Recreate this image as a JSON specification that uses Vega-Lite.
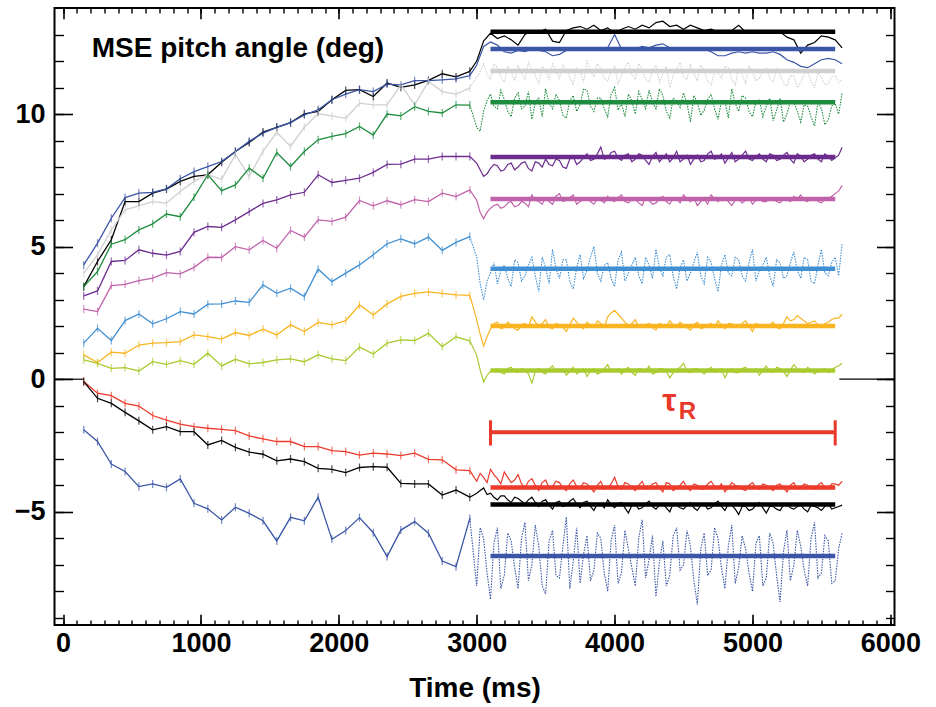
{
"$schema": "https://vega.github.io/schema/vega-lite/v6.json",
"width": 840, "height": 617,
"autosize": {"type": "none"},
"padding": {"left": 54.5, "top": 8, "right": 41.5, "bottom": 82},
"background": "white",
"datasets": {
"pitch": [
{"ch":1,"t":150,"v":3.49},{"ch":1,"t":250,"v":4.44},{"ch":1,"t":350,"v":5.26},{"ch":1,"t":450,"v":6.7},{"ch":1,"t":550,"v":6.7},{"ch":1,"t":650,"v":7.02},{"ch":1,"t":750,"v":7.17},{"ch":1,"t":850,"v":7.46},{"ch":1,"t":950,"v":7.65},{"ch":1,"t":1050,"v":7.71},{"ch":1,"t":1150,"v":8.18},{"ch":1,"t":1250,"v":8.59},{"ch":1,"t":1350,"v":8.93},{"ch":1,"t":1450,"v":9.32},{"ch":1,"t":1550,"v":9.5},{"ch":1,"t":1650,"v":9.68},{"ch":1,"t":1750,"v":10.01},{"ch":1,"t":1850,"v":10.1},{"ch":1,"t":1950,"v":10.54},{"ch":1,"t":2050,"v":10.89},{"ch":1,"t":2150,"v":10.92},{"ch":1,"t":2250,"v":10.66},{"ch":1,"t":2350,"v":11.17},{"ch":1,"t":2450,"v":11.01},{"ch":1,"t":2550,"v":11.1},{"ch":1,"t":2650,"v":11.27},{"ch":1,"t":2750,"v":11.52},{"ch":1,"t":2850,"v":11.4},{"ch":1,"t":2950,"v":11.61},
{"ch":1,"t":3000,"v":12.0},{"ch":1,"t":3050,"v":12.75},{"ch":1,"t":3100,"v":13.05},{"ch":1,"t":3150,"v":12.85},{"ch":1,"t":3200,"v":12.95},{"ch":1,"t":3250,"v":12.8},{"ch":1,"t":3300,"v":12.6},{"ch":1,"t":3350,"v":13.0},{"ch":1,"t":3400,"v":13.15},{"ch":1,"t":3450,"v":13.1},{"ch":1,"t":3500,"v":13.2},{"ch":1,"t":3550,"v":12.75},{"ch":1,"t":3600,"v":12.7},{"ch":1,"t":3650,"v":13.15},{"ch":1,"t":3700,"v":13.25},{"ch":1,"t":3750,"v":13.3},{"ch":1,"t":3800,"v":13.2},{"ch":1,"t":3850,"v":13.35},{"ch":1,"t":3900,"v":13.15},{"ch":1,"t":3950,"v":13.25},{"ch":1,"t":4000,"v":13.05},{"ch":1,"t":4050,"v":13.2},{"ch":1,"t":4100,"v":13.3},{"ch":1,"t":4150,"v":13.2},{"ch":1,"t":4200,"v":13.35},{"ch":1,"t":4250,"v":13.25},{"ch":1,"t":4300,"v":13.45},{"ch":1,"t":4350,"v":13.5},{"ch":1,"t":4400,"v":13.3},{"ch":1,"t":4450,"v":13.35},{"ch":1,"t":4500,"v":13.2},{"ch":1,"t":4550,"v":13.35},{"ch":1,"t":4600,"v":13.25},{"ch":1,"t":4650,"v":13.15},{"ch":1,"t":4700,"v":13.2},{"ch":1,"t":4750,"v":13.1},{"ch":1,"t":4800,"v":13.05},{"ch":1,"t":4850,"v":13.15},{"ch":1,"t":4900,"v":13.35},{"ch":1,"t":4950,"v":13.1},{"ch":1,"t":5000,"v":13.05},{"ch":1,"t":5050,"v":13.15},{"ch":1,"t":5100,"v":13.1},{"ch":1,"t":5150,"v":13.05},{"ch":1,"t":5200,"v":13.1},{"ch":1,"t":5250,"v":12.9},{"ch":1,"t":5300,"v":12.8},{"ch":1,"t":5350,"v":12.3},{"ch":1,"t":5400,"v":12.6},{"ch":1,"t":5450,"v":12.7},{"ch":1,"t":5500,"v":12.95},{"ch":1,"t":5550,"v":12.9},{"ch":1,"t":5600,"v":12.8},{"ch":1,"t":5650,"v":12.5},
{"ch":2,"t":150,"v":4.31},{"ch":2,"t":250,"v":5.13},{"ch":2,"t":350,"v":6.07},{"ch":2,"t":450,"v":6.85},{"ch":2,"t":550,"v":7.02},{"ch":2,"t":650,"v":7.05},{"ch":2,"t":750,"v":7.18},{"ch":2,"t":850,"v":7.56},{"ch":2,"t":950,"v":7.83},{"ch":2,"t":1050,"v":8.02},{"ch":2,"t":1150,"v":8.21},{"ch":2,"t":1250,"v":8.59},{"ch":2,"t":1350,"v":8.97},{"ch":2,"t":1450,"v":9.28},{"ch":2,"t":1550,"v":9.5},{"ch":2,"t":1650,"v":9.68},{"ch":2,"t":1750,"v":9.97},{"ch":2,"t":1850,"v":10.16},{"ch":2,"t":1950,"v":10.54},{"ch":2,"t":2050,"v":10.75},{"ch":2,"t":2150,"v":10.92},{"ch":2,"t":2250,"v":10.85},{"ch":2,"t":2350,"v":11.13},{"ch":2,"t":2450,"v":11.1},{"ch":2,"t":2550,"v":11.26},{"ch":2,"t":2650,"v":11.26},{"ch":2,"t":2750,"v":11.29},{"ch":2,"t":2850,"v":11.33},{"ch":2,"t":2950,"v":11.45},
{"ch":2,"t":3000,"v":11.85},{"ch":2,"t":3050,"v":12.55},{"ch":2,"t":3100,"v":12.72},{"ch":2,"t":3150,"v":12.6},{"ch":2,"t":3200,"v":12.35},{"ch":2,"t":3250,"v":12.3},{"ch":2,"t":3300,"v":12.4},{"ch":2,"t":3350,"v":12.35},{"ch":2,"t":3400,"v":12.45},{"ch":2,"t":3450,"v":12.4},{"ch":2,"t":3500,"v":12.35},{"ch":2,"t":3550,"v":12.2},{"ch":2,"t":3600,"v":12.25},{"ch":2,"t":3650,"v":12.4},{"ch":2,"t":3700,"v":12.45},{"ch":2,"t":3750,"v":12.4},{"ch":2,"t":3800,"v":12.5},{"ch":2,"t":3850,"v":12.45},{"ch":2,"t":3900,"v":12.4},{"ch":2,"t":3950,"v":12.5},{"ch":2,"t":4000,"v":13.0},{"ch":2,"t":4050,"v":12.45},{"ch":2,"t":4100,"v":12.5},{"ch":2,"t":4150,"v":12.45},{"ch":2,"t":4200,"v":12.55},{"ch":2,"t":4250,"v":12.5},{"ch":2,"t":4300,"v":12.6},{"ch":2,"t":4350,"v":12.65},{"ch":2,"t":4400,"v":12.5},{"ch":2,"t":4450,"v":12.45},{"ch":2,"t":4500,"v":12.5},{"ch":2,"t":4550,"v":12.45},{"ch":2,"t":4600,"v":12.4},{"ch":2,"t":4650,"v":12.45},{"ch":2,"t":4700,"v":12.35},{"ch":2,"t":4750,"v":12.2},{"ch":2,"t":4800,"v":12.2},{"ch":2,"t":4850,"v":12.3},{"ch":2,"t":4900,"v":12.35},{"ch":2,"t":4950,"v":12.3},{"ch":2,"t":5000,"v":12.35},{"ch":2,"t":5050,"v":12.3},{"ch":2,"t":5100,"v":12.3},{"ch":2,"t":5150,"v":12.35},{"ch":2,"t":5200,"v":12.25},{"ch":2,"t":5250,"v":12.05},{"ch":2,"t":5300,"v":11.95},{"ch":2,"t":5350,"v":11.8},{"ch":2,"t":5400,"v":11.75},{"ch":2,"t":5450,"v":11.9},{"ch":2,"t":5500,"v":12.05},{"ch":2,"t":5550,"v":12.1},{"ch":2,"t":5600,"v":12.05},{"ch":2,"t":5650,"v":11.9},
{"ch":3,"t":150,"v":4.0},{"ch":3,"t":250,"v":4.69},{"ch":3,"t":350,"v":5.63},{"ch":3,"t":450,"v":6.39},{"ch":3,"t":550,"v":6.54},{"ch":3,"t":650,"v":6.7},{"ch":3,"t":750,"v":6.64},{"ch":3,"t":850,"v":7.08},{"ch":3,"t":950,"v":7.46},{"ch":3,"t":1050,"v":7.71},{"ch":3,"t":1150,"v":7.54},{"ch":3,"t":1250,"v":8.47},{"ch":3,"t":1350,"v":7.65},{"ch":3,"t":1450,"v":8.59},{"ch":3,"t":1550,"v":9.31},{"ch":3,"t":1650,"v":8.78},{"ch":3,"t":1750,"v":9.51},{"ch":3,"t":1850,"v":10.01},{"ch":3,"t":1950,"v":9.93},{"ch":3,"t":2050,"v":9.84},{"ch":3,"t":2150,"v":10.41},{"ch":3,"t":2250,"v":10.35},{"ch":3,"t":2350,"v":10.35},{"ch":3,"t":2450,"v":11.1},{"ch":3,"t":2550,"v":10.35},{"ch":3,"t":2650,"v":11.23},{"ch":3,"t":2750,"v":10.85},{"ch":3,"t":2850,"v":10.75},{"ch":3,"t":2950,"v":10.98},
{"ch":3,"t":3000,"v":11.4},{"ch":3,"t":3050,"v":11.9},{"ch":3,"t":3100,"v":11.3},{"ch":3,"t":3150,"v":11.75},{"ch":3,"t":3200,"v":11.2},{"ch":3,"t":3250,"v":11.6},{"ch":3,"t":3300,"v":11.85},{"ch":3,"t":3350,"v":11.3},{"ch":3,"t":3400,"v":11.7},{"ch":3,"t":3450,"v":11.15},{"ch":3,"t":3500,"v":11.65},{"ch":3,"t":3550,"v":11.9},{"ch":3,"t":3600,"v":11.35},{"ch":3,"t":3650,"v":11.7},{"ch":3,"t":3700,"v":11.1},{"ch":3,"t":3750,"v":11.6},{"ch":3,"t":3800,"v":12.0},{"ch":3,"t":3850,"v":11.4},{"ch":3,"t":3900,"v":11.75},{"ch":3,"t":3950,"v":11.25},{"ch":3,"t":4000,"v":11.8},{"ch":3,"t":4050,"v":11.45},{"ch":3,"t":4100,"v":11.95},{"ch":3,"t":4150,"v":11.3},{"ch":3,"t":4200,"v":11.7},{"ch":3,"t":4250,"v":11.2},{"ch":3,"t":4300,"v":11.85},{"ch":3,"t":4350,"v":11.5},{"ch":3,"t":4400,"v":11.0},{"ch":3,"t":4450,"v":11.7},{"ch":3,"t":4500,"v":11.4},{"ch":3,"t":4550,"v":11.9},{"ch":3,"t":4600,"v":11.25},{"ch":3,"t":4650,"v":11.65},{"ch":3,"t":4700,"v":11.1},{"ch":3,"t":4750,"v":11.55},{"ch":3,"t":4800,"v":11.8},{"ch":3,"t":4850,"v":11.3},{"ch":3,"t":4900,"v":11.7},{"ch":3,"t":4950,"v":11.15},{"ch":3,"t":5000,"v":11.6},{"ch":3,"t":5050,"v":11.35},{"ch":3,"t":5100,"v":11.75},{"ch":3,"t":5150,"v":11.2},{"ch":3,"t":5200,"v":11.5},{"ch":3,"t":5250,"v":11.05},{"ch":3,"t":5300,"v":11.45},{"ch":3,"t":5350,"v":11.2},{"ch":3,"t":5400,"v":11.6},{"ch":3,"t":5450,"v":11.0},{"ch":3,"t":5500,"v":11.4},{"ch":3,"t":5550,"v":11.15},{"ch":3,"t":5600,"v":11.45},{"ch":3,"t":5650,"v":11.3},
{"ch":4,"t":150,"v":3.49},{"ch":4,"t":250,"v":4.06},{"ch":4,"t":350,"v":5.09},{"ch":4,"t":450,"v":5.26},{"ch":4,"t":550,"v":5.63},{"ch":4,"t":650,"v":5.86},{"ch":4,"t":750,"v":6.23},{"ch":4,"t":850,"v":6.13},{"ch":4,"t":950,"v":6.86},{"ch":4,"t":1050,"v":7.71},{"ch":4,"t":1150,"v":7.11},{"ch":4,"t":1250,"v":7.33},{"ch":4,"t":1350,"v":7.96},{"ch":4,"t":1450,"v":7.58},{"ch":4,"t":1550,"v":8.55},{"ch":4,"t":1650,"v":8.02},{"ch":4,"t":1750,"v":8.59},{"ch":4,"t":1850,"v":9.03},{"ch":4,"t":1950,"v":9.16},{"ch":4,"t":2050,"v":9.26},{"ch":4,"t":2150,"v":9.53},{"ch":4,"t":2250,"v":9.21},{"ch":4,"t":2350,"v":10.0},{"ch":4,"t":2450,"v":9.93},{"ch":4,"t":2550,"v":10.28},{"ch":4,"t":2650,"v":10.1},{"ch":4,"t":2750,"v":10.04},{"ch":4,"t":2850,"v":10.35},{"ch":4,"t":2950,"v":10.34},
{"ch":4,"t":3000,"v":9.5},{"ch":4,"t":3050,"v":10.1},{"ch":4,"t":3100,"v":10.75},{"ch":4,"t":3150,"v":10.2},{"ch":4,"t":3200,"v":10.55},{"ch":4,"t":3250,"v":9.9},{"ch":4,"t":3300,"v":10.8},{"ch":4,"t":3350,"v":10.3},{"ch":4,"t":3400,"v":9.8},{"ch":4,"t":3450,"v":10.6},{"ch":4,"t":3500,"v":10.95},{"ch":4,"t":3550,"v":10.2},{"ch":4,"t":3600,"v":10.5},{"ch":4,"t":3650,"v":9.85},{"ch":4,"t":3700,"v":10.7},{"ch":4,"t":3750,"v":10.35},{"ch":4,"t":3800,"v":10.9},{"ch":4,"t":3850,"v":10.1},{"ch":4,"t":3900,"v":10.6},{"ch":4,"t":3950,"v":9.9},{"ch":4,"t":4000,"v":11.0},{"ch":4,"t":4050,"v":10.4},{"ch":4,"t":4100,"v":10.75},{"ch":4,"t":4150,"v":10.0},{"ch":4,"t":4200,"v":10.55},{"ch":4,"t":4250,"v":10.9},{"ch":4,"t":4300,"v":10.2},{"ch":4,"t":4350,"v":10.7},{"ch":4,"t":4400,"v":9.85},{"ch":4,"t":4450,"v":10.5},{"ch":4,"t":4500,"v":10.8},{"ch":4,"t":4550,"v":9.7},{"ch":4,"t":4600,"v":10.45},{"ch":4,"t":4650,"v":10.15},{"ch":4,"t":4700,"v":10.75},{"ch":4,"t":4750,"v":9.8},{"ch":4,"t":4800,"v":10.5},{"ch":4,"t":4850,"v":10.95},{"ch":4,"t":4900,"v":10.1},{"ch":4,"t":4950,"v":10.6},{"ch":4,"t":5000,"v":9.9},{"ch":4,"t":5050,"v":10.55},{"ch":4,"t":5100,"v":10.3},{"ch":4,"t":5150,"v":9.75},{"ch":4,"t":5200,"v":10.6},{"ch":4,"t":5250,"v":10.0},{"ch":4,"t":5300,"v":10.45},{"ch":4,"t":5350,"v":9.7},{"ch":4,"t":5400,"v":10.3},{"ch":4,"t":5450,"v":9.55},{"ch":4,"t":5500,"v":10.2},{"ch":4,"t":5550,"v":9.8},{"ch":4,"t":5600,"v":10.4},{"ch":4,"t":5650,"v":10.8},
{"ch":5,"t":150,"v":3.14},{"ch":5,"t":250,"v":3.33},{"ch":5,"t":350,"v":4.44},{"ch":5,"t":450,"v":4.48},{"ch":5,"t":550,"v":4.88},{"ch":5,"t":650,"v":4.75},{"ch":5,"t":750,"v":4.68},{"ch":5,"t":850,"v":4.82},{"ch":5,"t":950,"v":5.54},{"ch":5,"t":1050,"v":5.76},{"ch":5,"t":1150,"v":5.73},{"ch":5,"t":1250,"v":6.01},{"ch":5,"t":1350,"v":6.32},{"ch":5,"t":1450,"v":6.63},{"ch":5,"t":1550,"v":6.76},{"ch":5,"t":1650,"v":6.95},{"ch":5,"t":1750,"v":7.05},{"ch":5,"t":1850,"v":7.71},{"ch":5,"t":1950,"v":7.42},{"ch":5,"t":2050,"v":7.5},{"ch":5,"t":2150,"v":7.58},{"ch":5,"t":2250,"v":7.8},{"ch":5,"t":2350,"v":8.1},{"ch":5,"t":2450,"v":8.11},{"ch":5,"t":2550,"v":8.3},{"ch":5,"t":2650,"v":8.3},{"ch":5,"t":2750,"v":8.4},{"ch":5,"t":2850,"v":8.4},{"ch":5,"t":2950,"v":8.4},
{"ch":5,"t":3000,"v":8.15},{"ch":5,"t":3050,"v":7.65},{"ch":5,"t":3100,"v":7.95},{"ch":5,"t":3150,"v":8.05},{"ch":5,"t":3200,"v":7.9},{"ch":5,"t":3250,"v":8.15},{"ch":5,"t":3300,"v":8.0},{"ch":5,"t":3350,"v":8.2},{"ch":5,"t":3400,"v":7.85},{"ch":5,"t":3450,"v":8.15},{"ch":5,"t":3500,"v":8.3},{"ch":5,"t":3550,"v":8.05},{"ch":5,"t":3600,"v":8.25},{"ch":5,"t":3650,"v":7.95},{"ch":5,"t":3700,"v":8.4},{"ch":5,"t":3750,"v":8.2},{"ch":5,"t":3800,"v":8.5},{"ch":5,"t":3850,"v":8.3},{"ch":5,"t":3900,"v":8.75},{"ch":5,"t":3950,"v":8.35},{"ch":5,"t":4000,"v":8.6},{"ch":5,"t":4050,"v":8.25},{"ch":5,"t":4100,"v":8.5},{"ch":5,"t":4150,"v":8.3},{"ch":5,"t":4200,"v":8.45},{"ch":5,"t":4250,"v":8.1},{"ch":5,"t":4300,"v":8.55},{"ch":5,"t":4350,"v":8.35},{"ch":5,"t":4400,"v":8.2},{"ch":5,"t":4450,"v":8.6},{"ch":5,"t":4500,"v":8.3},{"ch":5,"t":4550,"v":8.1},{"ch":5,"t":4600,"v":8.45},{"ch":5,"t":4650,"v":8.25},{"ch":5,"t":4700,"v":8.6},{"ch":5,"t":4750,"v":8.35},{"ch":5,"t":4800,"v":8.15},{"ch":5,"t":4850,"v":8.55},{"ch":5,"t":4900,"v":8.3},{"ch":5,"t":4950,"v":8.6},{"ch":5,"t":5000,"v":8.25},{"ch":5,"t":5050,"v":8.5},{"ch":5,"t":5100,"v":8.2},{"ch":5,"t":5150,"v":8.45},{"ch":5,"t":5200,"v":8.3},{"ch":5,"t":5250,"v":8.55},{"ch":5,"t":5300,"v":8.15},{"ch":5,"t":5350,"v":8.4},{"ch":5,"t":5400,"v":8.3},{"ch":5,"t":5450,"v":8.5},{"ch":5,"t":5500,"v":8.2},{"ch":5,"t":5550,"v":8.4},{"ch":5,"t":5600,"v":8.35},{"ch":5,"t":5650,"v":8.75},
{"ch":6,"t":150,"v":2.64},{"ch":6,"t":250,"v":2.55},{"ch":6,"t":350,"v":3.53},{"ch":6,"t":450,"v":3.58},{"ch":6,"t":550,"v":3.72},{"ch":6,"t":650,"v":3.81},{"ch":6,"t":750,"v":4.02},{"ch":6,"t":850,"v":3.97},{"ch":6,"t":950,"v":4.22},{"ch":6,"t":1050,"v":4.6},{"ch":6,"t":1150,"v":4.59},{"ch":6,"t":1250,"v":5.0},{"ch":6,"t":1350,"v":4.88},{"ch":6,"t":1450,"v":5.23},{"ch":6,"t":1550,"v":4.94},{"ch":6,"t":1650,"v":5.61},{"ch":6,"t":1750,"v":5.36},{"ch":6,"t":1850,"v":6.01},{"ch":6,"t":1950,"v":5.95},{"ch":6,"t":2050,"v":6.11},{"ch":6,"t":2150,"v":6.74},{"ch":6,"t":2250,"v":6.54},{"ch":6,"t":2350,"v":6.73},{"ch":6,"t":2450,"v":6.58},{"ch":6,"t":2550,"v":6.77},{"ch":6,"t":2650,"v":6.7},{"ch":6,"t":2750,"v":7.02},{"ch":6,"t":2850,"v":6.89},{"ch":6,"t":2950,"v":7.14},
{"ch":6,"t":3000,"v":6.75},{"ch":6,"t":3050,"v":6.05},{"ch":6,"t":3100,"v":6.45},{"ch":6,"t":3150,"v":6.6},{"ch":6,"t":3200,"v":6.5},{"ch":6,"t":3250,"v":6.7},{"ch":6,"t":3300,"v":6.55},{"ch":6,"t":3350,"v":6.65},{"ch":6,"t":3400,"v":6.95},{"ch":6,"t":3450,"v":6.7},{"ch":6,"t":3500,"v":6.85},{"ch":6,"t":3550,"v":6.6},{"ch":6,"t":3600,"v":7.0},{"ch":6,"t":3650,"v":6.75},{"ch":6,"t":3700,"v":6.95},{"ch":6,"t":3750,"v":6.7},{"ch":6,"t":3800,"v":6.85},{"ch":6,"t":3850,"v":6.6},{"ch":6,"t":3900,"v":6.75},{"ch":6,"t":3950,"v":6.9},{"ch":6,"t":4000,"v":6.7},{"ch":6,"t":4050,"v":6.95},{"ch":6,"t":4100,"v":6.65},{"ch":6,"t":4150,"v":6.8},{"ch":6,"t":4200,"v":6.55},{"ch":6,"t":4250,"v":6.75},{"ch":6,"t":4300,"v":6.65},{"ch":6,"t":4350,"v":6.9},{"ch":6,"t":4400,"v":6.6},{"ch":6,"t":4450,"v":6.8},{"ch":6,"t":4500,"v":6.95},{"ch":6,"t":4550,"v":6.7},{"ch":6,"t":4600,"v":6.55},{"ch":6,"t":4650,"v":6.8},{"ch":6,"t":4700,"v":6.95},{"ch":6,"t":4750,"v":6.7},{"ch":6,"t":4800,"v":6.85},{"ch":6,"t":4850,"v":6.55},{"ch":6,"t":4900,"v":6.8},{"ch":6,"t":4950,"v":6.75},{"ch":6,"t":5000,"v":6.6},{"ch":6,"t":5050,"v":6.85},{"ch":6,"t":5100,"v":6.7},{"ch":6,"t":5150,"v":6.8},{"ch":6,"t":5200,"v":6.65},{"ch":6,"t":5250,"v":6.75},{"ch":6,"t":5300,"v":6.9},{"ch":6,"t":5350,"v":6.95},{"ch":6,"t":5400,"v":6.7},{"ch":6,"t":5450,"v":6.85},{"ch":6,"t":5500,"v":6.65},{"ch":6,"t":5550,"v":6.8},{"ch":6,"t":5600,"v":7.0},{"ch":6,"t":5650,"v":7.3},
{"ch":7,"t":150,"v":1.36},{"ch":7,"t":250,"v":1.92},{"ch":7,"t":350,"v":1.46},{"ch":7,"t":450,"v":2.21},{"ch":7,"t":550,"v":2.46},{"ch":7,"t":650,"v":2.09},{"ch":7,"t":750,"v":2.28},{"ch":7,"t":850,"v":2.55},{"ch":7,"t":950,"v":2.46},{"ch":7,"t":1050,"v":2.83},{"ch":7,"t":1150,"v":2.84},{"ch":7,"t":1250,"v":2.95},{"ch":7,"t":1350,"v":2.9},{"ch":7,"t":1450,"v":3.56},{"ch":7,"t":1550,"v":3.24},{"ch":7,"t":1650,"v":3.43},{"ch":7,"t":1750,"v":3.12},{"ch":7,"t":1850,"v":4.15},{"ch":7,"t":1950,"v":3.68},{"ch":7,"t":2050,"v":4.0},{"ch":7,"t":2150,"v":4.31},{"ch":7,"t":2250,"v":4.69},{"ch":7,"t":2350,"v":5.11},{"ch":7,"t":2450,"v":5.29},{"ch":7,"t":2550,"v":5.11},{"ch":7,"t":2650,"v":5.36},{"ch":7,"t":2750,"v":4.86},{"ch":7,"t":2850,"v":5.16},{"ch":7,"t":2950,"v":5.38},
{"ch":7,"t":3000,"v":4.6},{"ch":7,"t":3050,"v":3.0},{"ch":7,"t":3100,"v":4.0},{"ch":7,"t":3150,"v":3.6},{"ch":7,"t":3200,"v":4.3},{"ch":7,"t":3250,"v":3.5},{"ch":7,"t":3300,"v":4.4},{"ch":7,"t":3350,"v":3.9},{"ch":7,"t":3400,"v":4.6},{"ch":7,"t":3450,"v":3.3},{"ch":7,"t":3500,"v":4.2},{"ch":7,"t":3550,"v":4.9},{"ch":7,"t":3600,"v":3.8},{"ch":7,"t":3650,"v":4.5},{"ch":7,"t":3700,"v":3.4},{"ch":7,"t":3750,"v":4.7},{"ch":7,"t":3800,"v":4.1},{"ch":7,"t":3850,"v":5.0},{"ch":7,"t":3900,"v":3.7},{"ch":7,"t":3950,"v":4.4},{"ch":7,"t":4000,"v":3.5},{"ch":7,"t":4050,"v":4.8},{"ch":7,"t":4100,"v":4.0},{"ch":7,"t":4150,"v":4.6},{"ch":7,"t":4200,"v":3.6},{"ch":7,"t":4250,"v":4.3},{"ch":7,"t":4300,"v":4.9},{"ch":7,"t":4350,"v":3.9},{"ch":7,"t":4400,"v":4.7},{"ch":7,"t":4450,"v":3.4},{"ch":7,"t":4500,"v":4.5},{"ch":7,"t":4550,"v":4.0},{"ch":7,"t":4600,"v":4.8},{"ch":7,"t":4650,"v":3.6},{"ch":7,"t":4700,"v":4.4},{"ch":7,"t":4750,"v":3.3},{"ch":7,"t":4800,"v":4.7},{"ch":7,"t":4850,"v":3.9},{"ch":7,"t":4900,"v":4.5},{"ch":7,"t":4950,"v":3.7},{"ch":7,"t":5000,"v":4.9},{"ch":7,"t":5050,"v":4.1},{"ch":7,"t":5100,"v":4.6},{"ch":7,"t":5150,"v":3.5},{"ch":7,"t":5200,"v":4.4},{"ch":7,"t":5250,"v":3.9},{"ch":7,"t":5300,"v":4.8},{"ch":7,"t":5350,"v":3.8},{"ch":7,"t":5400,"v":4.5},{"ch":7,"t":5450,"v":3.6},{"ch":7,"t":5500,"v":4.9},{"ch":7,"t":5550,"v":3.9},{"ch":7,"t":5600,"v":4.6},{"ch":7,"t":5650,"v":5.1},
{"ch":8,"t":150,"v":0.92},{"ch":8,"t":250,"v":0.63},{"ch":8,"t":350,"v":1.02},{"ch":8,"t":450,"v":0.98},{"ch":8,"t":550,"v":1.29},{"ch":8,"t":650,"v":1.36},{"ch":8,"t":750,"v":1.38},{"ch":8,"t":850,"v":1.42},{"ch":8,"t":950,"v":1.67},{"ch":8,"t":1050,"v":1.61},{"ch":8,"t":1150,"v":1.51},{"ch":8,"t":1250,"v":1.76},{"ch":8,"t":1350,"v":1.65},{"ch":8,"t":1450,"v":1.89},{"ch":8,"t":1550,"v":1.67},{"ch":8,"t":1650,"v":2.05},{"ch":8,"t":1750,"v":1.8},{"ch":8,"t":1850,"v":2.14},{"ch":8,"t":1950,"v":2.05},{"ch":8,"t":2050,"v":2.21},{"ch":8,"t":2150,"v":2.8},{"ch":8,"t":2250,"v":2.42},{"ch":8,"t":2350,"v":2.84},{"ch":8,"t":2450,"v":3.12},{"ch":8,"t":2550,"v":3.24},{"ch":8,"t":2650,"v":3.29},{"ch":8,"t":2750,"v":3.24},{"ch":8,"t":2850,"v":3.18},{"ch":8,"t":2950,"v":3.16},
{"ch":8,"t":3000,"v":2.25},{"ch":8,"t":3050,"v":1.25},{"ch":8,"t":3100,"v":1.9},{"ch":8,"t":3150,"v":2.15},{"ch":8,"t":3200,"v":1.95},{"ch":8,"t":3250,"v":2.05},{"ch":8,"t":3300,"v":1.85},{"ch":8,"t":3350,"v":2.1},{"ch":8,"t":3400,"v":2.35},{"ch":8,"t":3450,"v":2.0},{"ch":8,"t":3500,"v":2.25},{"ch":8,"t":3550,"v":1.9},{"ch":8,"t":3600,"v":2.05},{"ch":8,"t":3650,"v":1.8},{"ch":8,"t":3700,"v":2.3},{"ch":8,"t":3750,"v":2.0},{"ch":8,"t":3800,"v":2.15},{"ch":8,"t":3850,"v":1.95},{"ch":8,"t":3900,"v":2.1},{"ch":8,"t":3950,"v":2.35},{"ch":8,"t":4000,"v":2.6},{"ch":8,"t":4050,"v":2.3},{"ch":8,"t":4100,"v":2.0},{"ch":8,"t":4150,"v":2.25},{"ch":8,"t":4200,"v":1.95},{"ch":8,"t":4250,"v":2.1},{"ch":8,"t":4300,"v":1.85},{"ch":8,"t":4350,"v":2.05},{"ch":8,"t":4400,"v":2.2},{"ch":8,"t":4450,"v":1.95},{"ch":8,"t":4500,"v":2.05},{"ch":8,"t":4550,"v":1.85},{"ch":8,"t":4600,"v":2.15},{"ch":8,"t":4650,"v":1.95},{"ch":8,"t":4700,"v":2.1},{"ch":8,"t":4750,"v":2.2},{"ch":8,"t":4800,"v":1.9},{"ch":8,"t":4850,"v":2.1},{"ch":8,"t":4900,"v":1.95},{"ch":8,"t":4950,"v":2.2},{"ch":8,"t":5000,"v":1.8},{"ch":8,"t":5050,"v":2.05},{"ch":8,"t":5100,"v":2.0},{"ch":8,"t":5150,"v":2.15},{"ch":8,"t":5200,"v":1.9},{"ch":8,"t":5250,"v":2.35},{"ch":8,"t":5300,"v":2.25},{"ch":8,"t":5350,"v":2.3},{"ch":8,"t":5400,"v":2.1},{"ch":8,"t":5450,"v":2.2},{"ch":8,"t":5500,"v":2.0},{"ch":8,"t":5550,"v":2.15},{"ch":8,"t":5600,"v":2.3},{"ch":8,"t":5650,"v":2.45},
{"ch":9,"t":150,"v":0.73},{"ch":9,"t":250,"v":0.6},{"ch":9,"t":350,"v":0.41},{"ch":9,"t":450,"v":0.44},{"ch":9,"t":550,"v":0.31},{"ch":9,"t":650,"v":0.66},{"ch":9,"t":750,"v":0.56},{"ch":9,"t":850,"v":0.7},{"ch":9,"t":950,"v":0.56},{"ch":9,"t":1050,"v":0.98},{"ch":9,"t":1150,"v":0.5},{"ch":9,"t":1250,"v":0.75},{"ch":9,"t":1350,"v":0.58},{"ch":9,"t":1450,"v":0.63},{"ch":9,"t":1550,"v":0.73},{"ch":9,"t":1650,"v":0.77},{"ch":9,"t":1750,"v":0.66},{"ch":9,"t":1850,"v":0.92},{"ch":9,"t":1950,"v":0.77},{"ch":9,"t":2050,"v":0.7},{"ch":9,"t":2150,"v":1.21},{"ch":9,"t":2250,"v":0.95},{"ch":9,"t":2350,"v":1.36},{"ch":9,"t":2450,"v":1.48},{"ch":9,"t":2550,"v":1.46},{"ch":9,"t":2650,"v":1.73},{"ch":9,"t":2750,"v":1.23},{"ch":9,"t":2850,"v":1.6},{"ch":9,"t":2950,"v":1.45},
{"ch":9,"t":3000,"v":0.9},{"ch":9,"t":3050,"v":-0.1},{"ch":9,"t":3100,"v":0.3},{"ch":9,"t":3150,"v":0.4},{"ch":9,"t":3200,"v":0.2},{"ch":9,"t":3250,"v":0.45},{"ch":9,"t":3300,"v":0.25},{"ch":9,"t":3350,"v":0.35},{"ch":9,"t":3400,"v":-0.15},{"ch":9,"t":3450,"v":0.4},{"ch":9,"t":3500,"v":0.2},{"ch":9,"t":3550,"v":0.5},{"ch":9,"t":3600,"v":0.3},{"ch":9,"t":3650,"v":0.15},{"ch":9,"t":3700,"v":0.45},{"ch":9,"t":3750,"v":0.3},{"ch":9,"t":3800,"v":0.1},{"ch":9,"t":3850,"v":0.4},{"ch":9,"t":3900,"v":0.25},{"ch":9,"t":3950,"v":0.55},{"ch":9,"t":4000,"v":0.3},{"ch":9,"t":4050,"v":0.2},{"ch":9,"t":4100,"v":0.45},{"ch":9,"t":4150,"v":0.15},{"ch":9,"t":4200,"v":0.35},{"ch":9,"t":4250,"v":0.5},{"ch":9,"t":4300,"v":0.25},{"ch":9,"t":4350,"v":0.4},{"ch":9,"t":4400,"v":0.05},{"ch":9,"t":4450,"v":0.35},{"ch":9,"t":4500,"v":0.6},{"ch":9,"t":4550,"v":0.25},{"ch":9,"t":4600,"v":0.4},{"ch":9,"t":4650,"v":0.2},{"ch":9,"t":4700,"v":0.45},{"ch":9,"t":4750,"v":0.3},{"ch":9,"t":4800,"v":0.05},{"ch":9,"t":4850,"v":0.4},{"ch":9,"t":4900,"v":0.25},{"ch":9,"t":4950,"v":0.45},{"ch":9,"t":5000,"v":0.3},{"ch":9,"t":5050,"v":0.15},{"ch":9,"t":5100,"v":0.5},{"ch":9,"t":5150,"v":0.25},{"ch":9,"t":5200,"v":0.4},{"ch":9,"t":5250,"v":0.1},{"ch":9,"t":5300,"v":0.55},{"ch":9,"t":5350,"v":0.3},{"ch":9,"t":5400,"v":0.45},{"ch":9,"t":5450,"v":0.2},{"ch":9,"t":5500,"v":0.35},{"ch":9,"t":5550,"v":0.25},{"ch":9,"t":5600,"v":0.45},{"ch":9,"t":5650,"v":0.6},
{"ch":10,"t":150,"v":-0.09},{"ch":10,"t":250,"v":-0.53},{"ch":10,"t":350,"v":-0.62},{"ch":10,"t":450,"v":-0.91},{"ch":10,"t":550,"v":-1.01},{"ch":10,"t":650,"v":-1.37},{"ch":10,"t":750,"v":-1.54},{"ch":10,"t":850,"v":-1.69},{"ch":10,"t":950,"v":-1.79},{"ch":10,"t":1050,"v":-1.85},{"ch":10,"t":1150,"v":-1.89},{"ch":10,"t":1250,"v":-1.94},{"ch":10,"t":1350,"v":-2.14},{"ch":10,"t":1450,"v":-2.25},{"ch":10,"t":1550,"v":-2.35},{"ch":10,"t":1650,"v":-2.35},{"ch":10,"t":1750,"v":-2.54},{"ch":10,"t":1850,"v":-2.54},{"ch":10,"t":1950,"v":-2.69},{"ch":10,"t":2050,"v":-2.73},{"ch":10,"t":2150,"v":-2.86},{"ch":10,"t":2250,"v":-2.79},{"ch":10,"t":2350,"v":-2.82},{"ch":10,"t":2450,"v":-2.88},{"ch":10,"t":2550,"v":-2.79},{"ch":10,"t":2650,"v":-3.02},{"ch":10,"t":2750,"v":-3.04},{"ch":10,"t":2850,"v":-3.42},{"ch":10,"t":2950,"v":-3.45},
{"ch":10,"t":3000,"v":-3.85},{"ch":10,"t":3050,"v":-3.7},{"ch":10,"t":3100,"v":-3.4},{"ch":10,"t":3150,"v":-3.75},{"ch":10,"t":3200,"v":-3.5},{"ch":10,"t":3250,"v":-3.9},{"ch":10,"t":3300,"v":-3.6},{"ch":10,"t":3350,"v":-4.1},{"ch":10,"t":3400,"v":-3.75},{"ch":10,"t":3450,"v":-4.2},{"ch":10,"t":3500,"v":-3.8},{"ch":10,"t":3550,"v":-4.05},{"ch":10,"t":3600,"v":-3.9},{"ch":10,"t":3650,"v":-4.2},{"ch":10,"t":3700,"v":-3.8},{"ch":10,"t":3750,"v":-4.1},{"ch":10,"t":3800,"v":-3.95},{"ch":10,"t":3850,"v":-4.25},{"ch":10,"t":3900,"v":-3.85},{"ch":10,"t":3950,"v":-4.1},{"ch":10,"t":4000,"v":-3.7},{"ch":10,"t":4050,"v":-4.15},{"ch":10,"t":4100,"v":-3.95},{"ch":10,"t":4150,"v":-4.2},{"ch":10,"t":4200,"v":-3.85},{"ch":10,"t":4250,"v":-4.1},{"ch":10,"t":4300,"v":-3.9},{"ch":10,"t":4350,"v":-4.25},{"ch":10,"t":4400,"v":-3.95},{"ch":10,"t":4450,"v":-4.1},{"ch":10,"t":4500,"v":-3.85},{"ch":10,"t":4550,"v":-4.2},{"ch":10,"t":4600,"v":-4.0},{"ch":10,"t":4650,"v":-4.15},{"ch":10,"t":4700,"v":-3.85},{"ch":10,"t":4750,"v":-4.1},{"ch":10,"t":4800,"v":-4.25},{"ch":10,"t":4850,"v":-3.9},{"ch":10,"t":4900,"v":-4.05},{"ch":10,"t":4950,"v":-4.2},{"ch":10,"t":5000,"v":-3.9},{"ch":10,"t":5050,"v":-4.15},{"ch":10,"t":5100,"v":-4.0},{"ch":10,"t":5150,"v":-4.2},{"ch":10,"t":5200,"v":-3.95},{"ch":10,"t":5250,"v":-4.25},{"ch":10,"t":5300,"v":-3.9},{"ch":10,"t":5350,"v":-4.1},{"ch":10,"t":5400,"v":-4.0},{"ch":10,"t":5450,"v":-4.15},{"ch":10,"t":5500,"v":-3.9},{"ch":10,"t":5550,"v":-4.1},{"ch":10,"t":5600,"v":-3.95},{"ch":10,"t":5650,"v":-3.85},
{"ch":11,"t":150,"v":-0.09},{"ch":11,"t":250,"v":-0.72},{"ch":11,"t":350,"v":-0.91},{"ch":11,"t":450,"v":-1.25},{"ch":11,"t":550,"v":-1.57},{"ch":11,"t":650,"v":-1.91},{"ch":11,"t":750,"v":-1.79},{"ch":11,"t":850,"v":-1.98},{"ch":11,"t":950,"v":-1.98},{"ch":11,"t":1050,"v":-2.48},{"ch":11,"t":1150,"v":-2.31},{"ch":11,"t":1250,"v":-2.57},{"ch":11,"t":1350,"v":-2.75},{"ch":11,"t":1450,"v":-2.83},{"ch":11,"t":1550,"v":-3.08},{"ch":11,"t":1650,"v":-3.01},{"ch":11,"t":1750,"v":-3.11},{"ch":11,"t":1850,"v":-3.36},{"ch":11,"t":1950,"v":-3.4},{"ch":11,"t":2050,"v":-3.52},{"ch":11,"t":2150,"v":-3.33},{"ch":11,"t":2250,"v":-3.3},{"ch":11,"t":2350,"v":-3.32},{"ch":11,"t":2450,"v":-3.93},{"ch":11,"t":2550,"v":-3.95},{"ch":11,"t":2650,"v":-3.95},{"ch":11,"t":2750,"v":-4.37},{"ch":11,"t":2850,"v":-4.18},{"ch":11,"t":2950,"v":-4.45},
{"ch":11,"t":3000,"v":-4.3},{"ch":11,"t":3050,"v":-4.1},{"ch":11,"t":3100,"v":-4.3},{"ch":11,"t":3150,"v":-4.55},{"ch":11,"t":3200,"v":-4.4},{"ch":11,"t":3250,"v":-4.65},{"ch":11,"t":3300,"v":-4.5},{"ch":11,"t":3350,"v":-4.7},{"ch":11,"t":3400,"v":-4.45},{"ch":11,"t":3450,"v":-4.8},{"ch":11,"t":3500,"v":-4.55},{"ch":11,"t":3550,"v":-4.9},{"ch":11,"t":3600,"v":-4.6},{"ch":11,"t":3650,"v":-4.75},{"ch":11,"t":3700,"v":-4.5},{"ch":11,"t":3750,"v":-4.85},{"ch":11,"t":3800,"v":-4.6},{"ch":11,"t":3850,"v":-4.95},{"ch":11,"t":3900,"v":-4.7},{"ch":11,"t":3950,"v":-4.55},{"ch":11,"t":4000,"v":-4.85},{"ch":11,"t":4050,"v":-4.65},{"ch":11,"t":4100,"v":-5.05},{"ch":11,"t":4150,"v":-4.7},{"ch":11,"t":4200,"v":-4.85},{"ch":11,"t":4250,"v":-4.6},{"ch":11,"t":4300,"v":-4.9},{"ch":11,"t":4350,"v":-4.7},{"ch":11,"t":4400,"v":-5.0},{"ch":11,"t":4450,"v":-4.75},{"ch":11,"t":4500,"v":-4.9},{"ch":11,"t":4550,"v":-4.65},{"ch":11,"t":4600,"v":-4.95},{"ch":11,"t":4650,"v":-4.7},{"ch":11,"t":4700,"v":-4.85},{"ch":11,"t":4750,"v":-4.6},{"ch":11,"t":4800,"v":-4.95},{"ch":11,"t":4850,"v":-4.75},{"ch":11,"t":4900,"v":-5.1},{"ch":11,"t":4950,"v":-4.8},{"ch":11,"t":5000,"v":-4.9},{"ch":11,"t":5050,"v":-4.65},{"ch":11,"t":5100,"v":-5.05},{"ch":11,"t":5150,"v":-4.8},{"ch":11,"t":5200,"v":-4.95},{"ch":11,"t":5250,"v":-4.7},{"ch":11,"t":5300,"v":-4.9},{"ch":11,"t":5350,"v":-4.75},{"ch":11,"t":5400,"v":-5.0},{"ch":11,"t":5450,"v":-4.8},{"ch":11,"t":5500,"v":-4.95},{"ch":11,"t":5550,"v":-4.7},{"ch":11,"t":5600,"v":-4.85},{"ch":11,"t":5650,"v":-4.75},
{"ch":12,"t":150,"v":-1.91},{"ch":12,"t":250,"v":-2.35},{"ch":12,"t":350,"v":-3.2},{"ch":12,"t":450,"v":-3.48},{"ch":12,"t":550,"v":-4.05},{"ch":12,"t":650,"v":-3.95},{"ch":12,"t":750,"v":-4.08},{"ch":12,"t":850,"v":-3.76},{"ch":12,"t":950,"v":-4.68},{"ch":12,"t":1050,"v":-4.89},{"ch":12,"t":1150,"v":-5.31},{"ch":12,"t":1250,"v":-4.83},{"ch":12,"t":1350,"v":-5.06},{"ch":12,"t":1450,"v":-5.34},{"ch":12,"t":1550,"v":-6.1},{"ch":12,"t":1650,"v":-5.21},{"ch":12,"t":1750,"v":-5.34},{"ch":12,"t":1850,"v":-4.45},{"ch":12,"t":1950,"v":-6.04},{"ch":12,"t":2050,"v":-5.71},{"ch":12,"t":2150,"v":-5.22},{"ch":12,"t":2250,"v":-5.79},{"ch":12,"t":2350,"v":-6.69},{"ch":12,"t":2450,"v":-5.69},{"ch":12,"t":2550,"v":-5.37},{"ch":12,"t":2650,"v":-5.81},{"ch":12,"t":2750,"v":-6.86},{"ch":12,"t":2850,"v":-7.07},{"ch":12,"t":2950,"v":-5.25},
{"ch":12,"t":3000,"v":-7.8},{"ch":12,"t":3050,"v":-6.0},{"ch":12,"t":3100,"v":-8.3},{"ch":12,"t":3150,"v":-5.6},{"ch":12,"t":3200,"v":-7.4},{"ch":12,"t":3250,"v":-6.1},{"ch":12,"t":3300,"v":-7.9},{"ch":12,"t":3350,"v":-5.4},{"ch":12,"t":3400,"v":-7.0},{"ch":12,"t":3450,"v":-6.3},{"ch":12,"t":3500,"v":-8.1},{"ch":12,"t":3550,"v":-5.7},{"ch":12,"t":3600,"v":-7.5},{"ch":12,"t":3650,"v":-5.2},{"ch":12,"t":3700,"v":-6.9},{"ch":12,"t":3750,"v":-7.7},{"ch":12,"t":3800,"v":-5.9},{"ch":12,"t":3850,"v":-7.2},{"ch":12,"t":3900,"v":-6.0},{"ch":12,"t":3950,"v":-8.0},{"ch":12,"t":4000,"v":-5.5},{"ch":12,"t":4050,"v":-7.3},{"ch":12,"t":4100,"v":-6.4},{"ch":12,"t":4150,"v":-7.8},{"ch":12,"t":4200,"v":-5.3},{"ch":12,"t":4250,"v":-6.8},{"ch":12,"t":4300,"v":-8.2},{"ch":12,"t":4350,"v":-6.1},{"ch":12,"t":4400,"v":-7.4},{"ch":12,"t":4450,"v":-5.6},{"ch":12,"t":4500,"v":-7.0},{"ch":12,"t":4550,"v":-6.3},{"ch":12,"t":4600,"v":-8.5},{"ch":12,"t":4650,"v":-5.8},{"ch":12,"t":4700,"v":-7.2},{"ch":12,"t":4750,"v":-6.0},{"ch":12,"t":4800,"v":-7.9},{"ch":12,"t":4850,"v":-5.5},{"ch":12,"t":4900,"v":-7.1},{"ch":12,"t":4950,"v":-6.4},{"ch":12,"t":5000,"v":-8.0},{"ch":12,"t":5050,"v":-5.9},{"ch":12,"t":5100,"v":-7.5},{"ch":12,"t":5150,"v":-6.2},{"ch":12,"t":5200,"v":-8.4},{"ch":12,"t":5250,"v":-5.7},{"ch":12,"t":5300,"v":-7.0},{"ch":12,"t":5350,"v":-6.3},{"ch":12,"t":5400,"v":-7.8},{"ch":12,"t":5450,"v":-5.4},{"ch":12,"t":5500,"v":-7.3},{"ch":12,"t":5550,"v":-6.1},{"ch":12,"t":5600,"v":-7.6},{"ch":12,"t":5650,"v":-5.8},
{"ch":3,"t":3025,"v":11.6},{"ch":3,"t":3075,"v":11.5},{"ch":3,"t":3125,"v":11.9},{"ch":3,"t":3175,"v":11.4},{"ch":3,"t":3225,"v":11.8},{"ch":3,"t":3275,"v":11.25},{"ch":3,"t":3325,"v":11.55},{"ch":3,"t":3375,"v":11.95},{"ch":3,"t":3425,"v":11.45},{"ch":3,"t":3475,"v":11.8},{"ch":3,"t":3525,"v":11.3},{"ch":3,"t":3575,"v":11.6},{"ch":3,"t":3625,"v":11.85},{"ch":3,"t":3675,"v":11.4},{"ch":3,"t":3725,"v":11.75},{"ch":3,"t":3775,"v":11.2},{"ch":3,"t":3825,"v":11.65},{"ch":3,"t":3875,"v":11.9},{"ch":3,"t":3925,"v":11.35},{"ch":3,"t":3975,"v":11.6},{"ch":3,"t":4025,"v":11.15},{"ch":3,"t":4075,"v":11.75},{"ch":3,"t":4125,"v":11.5},{"ch":3,"t":4175,"v":11.9},{"ch":3,"t":4225,"v":11.3},{"ch":3,"t":4275,"v":11.65},{"ch":3,"t":4325,"v":11.2},{"ch":3,"t":4375,"v":11.8},{"ch":3,"t":4425,"v":11.45},{"ch":3,"t":4475,"v":11.95},{"ch":3,"t":4525,"v":11.3},{"ch":3,"t":4575,"v":11.55},{"ch":3,"t":4625,"v":11.85},{"ch":3,"t":4675,"v":11.25},{"ch":3,"t":4725,"v":11.6},{"ch":3,"t":4775,"v":11.35},{"ch":3,"t":4825,"v":11.75},{"ch":3,"t":4875,"v":11.1},{"ch":3,"t":4925,"v":11.5},{"ch":3,"t":4975,"v":11.8},{"ch":3,"t":5025,"v":11.25},{"ch":3,"t":5075,"v":11.6},{"ch":3,"t":5125,"v":11.35},{"ch":3,"t":5175,"v":11.7},{"ch":3,"t":5225,"v":11.15},{"ch":3,"t":5275,"v":11.45},{"ch":3,"t":5325,"v":11.0},{"ch":3,"t":5375,"v":11.5},{"ch":3,"t":5425,"v":11.25},{"ch":3,"t":5475,"v":11.55},{"ch":3,"t":5525,"v":11.1},{"ch":3,"t":5575,"v":11.4},{"ch":3,"t":5625,"v":11.2},
{"ch":4,"t":3025,"v":9.35},{"ch":4,"t":3075,"v":10.5},{"ch":4,"t":3125,"v":10.3},{"ch":4,"t":3175,"v":10.9},{"ch":4,"t":3225,"v":10.1},{"ch":4,"t":3275,"v":10.6},{"ch":4,"t":3325,"v":10.2},{"ch":4,"t":3375,"v":10.85},{"ch":4,"t":3425,"v":10.45},{"ch":4,"t":3475,"v":9.9},{"ch":4,"t":3525,"v":10.4},{"ch":4,"t":3575,"v":10.75},{"ch":4,"t":3625,"v":9.95},{"ch":4,"t":3675,"v":10.5},{"ch":4,"t":3725,"v":10.1},{"ch":4,"t":3775,"v":10.95},{"ch":4,"t":3825,"v":10.3},{"ch":4,"t":3875,"v":10.6},{"ch":4,"t":3925,"v":10.2},{"ch":4,"t":3975,"v":10.75},{"ch":4,"t":4025,"v":10.15},{"ch":4,"t":4075,"v":9.9},{"ch":4,"t":4125,"v":10.5},{"ch":4,"t":4175,"v":10.85},{"ch":4,"t":4225,"v":10.2},{"ch":4,"t":4275,"v":10.45},{"ch":4,"t":4325,"v":10.95},{"ch":4,"t":4375,"v":10.1},{"ch":4,"t":4425,"v":10.6},{"ch":4,"t":4475,"v":10.25},{"ch":4,"t":4525,"v":10.4},{"ch":4,"t":4575,"v":10.7},{"ch":4,"t":4625,"v":9.95},{"ch":4,"t":4675,"v":10.55},{"ch":4,"t":4725,"v":10.2},{"ch":4,"t":4775,"v":10.5},{"ch":4,"t":4825,"v":9.85},{"ch":4,"t":4875,"v":10.4},{"ch":4,"t":4925,"v":10.7},{"ch":4,"t":4975,"v":10.1},{"ch":4,"t":5025,"v":10.45},{"ch":4,"t":5075,"v":9.9},{"ch":4,"t":5125,"v":10.6},{"ch":4,"t":5175,"v":10.15},{"ch":4,"t":5225,"v":9.7},{"ch":4,"t":5275,"v":10.5},{"ch":4,"t":5325,"v":10.1},{"ch":4,"t":5375,"v":10.35},{"ch":4,"t":5425,"v":9.9},{"ch":4,"t":5475,"v":10.45},{"ch":4,"t":5525,"v":9.6},{"ch":4,"t":5575,"v":10.3},{"ch":4,"t":5625,"v":10.0},
{"ch":5,"t":3025,"v":7.9},{"ch":5,"t":3075,"v":7.75},{"ch":5,"t":3125,"v":8.1},{"ch":5,"t":3175,"v":7.85},{"ch":5,"t":3225,"v":8.1},{"ch":5,"t":3275,"v":7.9},{"ch":5,"t":3325,"v":8.15},{"ch":5,"t":3375,"v":7.95},{"ch":5,"t":3425,"v":8.2},{"ch":5,"t":3475,"v":8.0},{"ch":5,"t":3525,"v":8.1},{"ch":5,"t":3575,"v":8.3},{"ch":5,"t":3625,"v":8.0},{"ch":5,"t":3675,"v":8.3},{"ch":5,"t":3725,"v":8.1},{"ch":5,"t":3775,"v":8.35},{"ch":5,"t":3825,"v":8.25},{"ch":5,"t":3875,"v":8.5},{"ch":5,"t":3925,"v":8.3},{"ch":5,"t":3975,"v":8.55},{"ch":5,"t":4025,"v":8.35},{"ch":5,"t":4075,"v":8.45},{"ch":5,"t":4125,"v":8.2},{"ch":5,"t":4175,"v":8.5},{"ch":5,"t":4225,"v":8.25},{"ch":5,"t":4275,"v":8.4},{"ch":5,"t":4325,"v":8.2},{"ch":5,"t":4375,"v":8.5},{"ch":5,"t":4425,"v":8.35},{"ch":5,"t":4475,"v":8.2},{"ch":5,"t":4525,"v":8.45},{"ch":5,"t":4575,"v":8.3},{"ch":5,"t":4625,"v":8.2},{"ch":5,"t":4675,"v":8.5},{"ch":5,"t":4725,"v":8.3},{"ch":5,"t":4775,"v":8.5},{"ch":5,"t":4825,"v":8.35},{"ch":5,"t":4875,"v":8.2},{"ch":5,"t":4925,"v":8.45},{"ch":5,"t":4975,"v":8.3},{"ch":5,"t":5025,"v":8.4},{"ch":5,"t":5075,"v":8.3},{"ch":5,"t":5125,"v":8.5},{"ch":5,"t":5175,"v":8.25},{"ch":5,"t":5225,"v":8.45},{"ch":5,"t":5275,"v":8.3},{"ch":5,"t":5325,"v":8.5},{"ch":5,"t":5375,"v":8.2},{"ch":5,"t":5425,"v":8.45},{"ch":5,"t":5475,"v":8.3},{"ch":5,"t":5525,"v":8.5},{"ch":5,"t":5575,"v":8.25},{"ch":5,"t":5625,"v":8.45},
{"ch":6,"t":3025,"v":6.3},{"ch":6,"t":3075,"v":6.3},{"ch":6,"t":3125,"v":6.55},{"ch":6,"t":3175,"v":6.45},{"ch":6,"t":3225,"v":6.65},{"ch":6,"t":3275,"v":6.5},{"ch":6,"t":3325,"v":6.7},{"ch":6,"t":3375,"v":6.5},{"ch":6,"t":3425,"v":6.75},{"ch":6,"t":3475,"v":6.6},{"ch":6,"t":3525,"v":6.7},{"ch":6,"t":3575,"v":6.9},{"ch":6,"t":3625,"v":6.7},{"ch":6,"t":3675,"v":6.85},{"ch":6,"t":3725,"v":6.6},{"ch":6,"t":3775,"v":6.8},{"ch":6,"t":3825,"v":6.7},{"ch":6,"t":3875,"v":6.8},{"ch":6,"t":3925,"v":6.65},{"ch":6,"t":3975,"v":6.75},{"ch":6,"t":4025,"v":6.85},{"ch":6,"t":4075,"v":6.7},{"ch":6,"t":4125,"v":6.8},{"ch":6,"t":4175,"v":6.65},{"ch":6,"t":4225,"v":6.85},{"ch":6,"t":4275,"v":6.6},{"ch":6,"t":4325,"v":6.8},{"ch":6,"t":4375,"v":6.7},{"ch":6,"t":4425,"v":6.85},{"ch":6,"t":4475,"v":6.65},{"ch":6,"t":4525,"v":6.8},{"ch":6,"t":4575,"v":6.85},{"ch":6,"t":4625,"v":6.7},{"ch":6,"t":4675,"v":6.6},{"ch":6,"t":4725,"v":6.8},{"ch":6,"t":4775,"v":6.85},{"ch":6,"t":4825,"v":6.7},{"ch":6,"t":4875,"v":6.75},{"ch":6,"t":4925,"v":6.65},{"ch":6,"t":4975,"v":6.85},{"ch":6,"t":5025,"v":6.75},{"ch":6,"t":5075,"v":6.7},{"ch":6,"t":5125,"v":6.85},{"ch":6,"t":5175,"v":6.7},{"ch":6,"t":5225,"v":6.8},{"ch":6,"t":5275,"v":6.7},{"ch":6,"t":5325,"v":6.8},{"ch":6,"t":5375,"v":6.75},{"ch":6,"t":5425,"v":6.85},{"ch":6,"t":5475,"v":6.7},{"ch":6,"t":5525,"v":6.8},{"ch":6,"t":5575,"v":6.9},{"ch":6,"t":5625,"v":7.1},
{"ch":7,"t":3025,"v":3.6},{"ch":7,"t":3075,"v":3.7},{"ch":7,"t":3125,"v":4.4},{"ch":7,"t":3175,"v":4.1},{"ch":7,"t":3225,"v":3.8},{"ch":7,"t":3275,"v":4.5},{"ch":7,"t":3325,"v":3.7},{"ch":7,"t":3375,"v":4.3},{"ch":7,"t":3425,"v":3.9},{"ch":7,"t":3475,"v":4.6},{"ch":7,"t":3525,"v":3.6},{"ch":7,"t":3575,"v":4.2},{"ch":7,"t":3625,"v":4.5},{"ch":7,"t":3675,"v":3.7},{"ch":7,"t":3725,"v":4.2},{"ch":7,"t":3775,"v":3.8},{"ch":7,"t":3825,"v":4.6},{"ch":7,"t":3875,"v":4.0},{"ch":7,"t":3925,"v":4.3},{"ch":7,"t":3975,"v":3.8},{"ch":7,"t":4025,"v":4.5},{"ch":7,"t":4075,"v":3.7},{"ch":7,"t":4125,"v":4.3},{"ch":7,"t":4175,"v":3.9},{"ch":7,"t":4225,"v":4.6},{"ch":7,"t":4275,"v":3.8},{"ch":7,"t":4325,"v":4.2},{"ch":7,"t":4375,"v":4.6},{"ch":7,"t":4425,"v":3.9},{"ch":7,"t":4475,"v":4.2},{"ch":7,"t":4525,"v":3.7},{"ch":7,"t":4575,"v":4.4},{"ch":7,"t":4625,"v":3.9},{"ch":7,"t":4675,"v":4.6},{"ch":7,"t":4725,"v":3.8},{"ch":7,"t":4775,"v":4.3},{"ch":7,"t":4825,"v":4.0},{"ch":7,"t":4875,"v":4.6},{"ch":7,"t":4925,"v":3.9},{"ch":7,"t":4975,"v":4.4},{"ch":7,"t":5025,"v":3.7},{"ch":7,"t":5075,"v":4.3},{"ch":7,"t":5125,"v":3.9},{"ch":7,"t":5175,"v":4.5},{"ch":7,"t":5225,"v":3.8},{"ch":7,"t":5275,"v":4.4},{"ch":7,"t":5325,"v":4.1},{"ch":7,"t":5375,"v":4.6},{"ch":7,"t":5425,"v":3.7},{"ch":7,"t":5475,"v":4.3},{"ch":7,"t":5525,"v":4.0},{"ch":7,"t":5575,"v":4.4},{"ch":7,"t":5625,"v":3.9},
{"ch":8,"t":3025,"v":1.7},{"ch":8,"t":3075,"v":1.6},{"ch":8,"t":3125,"v":2.1},{"ch":8,"t":3175,"v":1.9},{"ch":8,"t":3225,"v":2.15},{"ch":8,"t":3275,"v":1.9},{"ch":8,"t":3325,"v":2.05},{"ch":8,"t":3375,"v":1.95},{"ch":8,"t":3425,"v":2.15},{"ch":8,"t":3475,"v":2.1},{"ch":8,"t":3525,"v":1.95},{"ch":8,"t":3575,"v":2.1},{"ch":8,"t":3625,"v":1.95},{"ch":8,"t":3675,"v":2.05},{"ch":8,"t":3725,"v":2.15},{"ch":8,"t":3775,"v":1.9},{"ch":8,"t":3825,"v":2.05},{"ch":8,"t":3875,"v":2.2},{"ch":8,"t":3925,"v":1.95},{"ch":8,"t":3975,"v":2.5},{"ch":8,"t":4025,"v":2.45},{"ch":8,"t":4075,"v":2.15},{"ch":8,"t":4125,"v":2.1},{"ch":8,"t":4175,"v":1.95},{"ch":8,"t":4225,"v":2.05},{"ch":8,"t":4275,"v":1.95},{"ch":8,"t":4325,"v":2.1},{"ch":8,"t":4375,"v":1.95},{"ch":8,"t":4425,"v":2.05},{"ch":8,"t":4475,"v":2.15},{"ch":8,"t":4525,"v":1.95},{"ch":8,"t":4575,"v":2.05},{"ch":8,"t":4625,"v":1.9},{"ch":8,"t":4675,"v":2.05},{"ch":8,"t":4725,"v":1.95},{"ch":8,"t":4775,"v":2.05},{"ch":8,"t":4825,"v":2.1},{"ch":8,"t":4875,"v":1.95},{"ch":8,"t":4925,"v":2.1},{"ch":8,"t":4975,"v":2.0},{"ch":8,"t":5025,"v":2.1},{"ch":8,"t":5075,"v":1.95},{"ch":8,"t":5125,"v":2.05},{"ch":8,"t":5175,"v":1.95},{"ch":8,"t":5225,"v":2.1},{"ch":8,"t":5275,"v":2.2},{"ch":8,"t":5325,"v":2.4},{"ch":8,"t":5375,"v":2.2},{"ch":8,"t":5425,"v":2.15},{"ch":8,"t":5475,"v":2.05},{"ch":8,"t":5525,"v":2.1},{"ch":8,"t":5575,"v":2.25},{"ch":8,"t":5625,"v":2.3},
{"ch":9,"t":3025,"v":0.35},{"ch":9,"t":3075,"v":0.15},{"ch":9,"t":3125,"v":0.35},{"ch":9,"t":3175,"v":0.25},{"ch":9,"t":3225,"v":0.4},{"ch":9,"t":3275,"v":0.3},{"ch":9,"t":3325,"v":0.4},{"ch":9,"t":3375,"v":0.2},{"ch":9,"t":3425,"v":0.3},{"ch":9,"t":3475,"v":0.25},{"ch":9,"t":3525,"v":0.4},{"ch":9,"t":3575,"v":0.3},{"ch":9,"t":3625,"v":0.4},{"ch":9,"t":3675,"v":0.3},{"ch":9,"t":3725,"v":0.2},{"ch":9,"t":3775,"v":0.4},{"ch":9,"t":3825,"v":0.3},{"ch":9,"t":3875,"v":0.2},{"ch":9,"t":3925,"v":0.4},{"ch":9,"t":3975,"v":0.3},{"ch":9,"t":4025,"v":0.4},{"ch":9,"t":4075,"v":0.35},{"ch":9,"t":4125,"v":0.25},{"ch":9,"t":4175,"v":0.4},{"ch":9,"t":4225,"v":0.3},{"ch":9,"t":4275,"v":0.2},{"ch":9,"t":4325,"v":0.4},{"ch":9,"t":4375,"v":0.3},{"ch":9,"t":4425,"v":0.25},{"ch":9,"t":4475,"v":0.45},{"ch":9,"t":4525,"v":0.3},{"ch":9,"t":4575,"v":0.4},{"ch":9,"t":4625,"v":0.3},{"ch":9,"t":4675,"v":0.35},{"ch":9,"t":4725,"v":0.25},{"ch":9,"t":4775,"v":0.4},{"ch":9,"t":4825,"v":0.3},{"ch":9,"t":4875,"v":0.25},{"ch":9,"t":4925,"v":0.4},{"ch":9,"t":4975,"v":0.3},{"ch":9,"t":5025,"v":0.4},{"ch":9,"t":5075,"v":0.35},{"ch":9,"t":5125,"v":0.3},{"ch":9,"t":5175,"v":0.45},{"ch":9,"t":5225,"v":0.3},{"ch":9,"t":5275,"v":0.35},{"ch":9,"t":5325,"v":0.4},{"ch":9,"t":5375,"v":0.25},{"ch":9,"t":5425,"v":0.35},{"ch":9,"t":5475,"v":0.3},{"ch":9,"t":5525,"v":0.4},{"ch":9,"t":5575,"v":0.35},{"ch":9,"t":5625,"v":0.5},
{"ch":10,"t":3025,"v":-3.55},{"ch":10,"t":3075,"v":-3.9},{"ch":10,"t":3125,"v":-3.6},{"ch":10,"t":3175,"v":-3.95},{"ch":10,"t":3225,"v":-3.7},{"ch":10,"t":3275,"v":-3.8},{"ch":10,"t":3325,"v":-3.95},{"ch":10,"t":3375,"v":-3.85},{"ch":10,"t":3425,"v":-4.0},{"ch":10,"t":3475,"v":-3.9},{"ch":10,"t":3525,"v":-4.1},{"ch":10,"t":3575,"v":-3.85},{"ch":10,"t":3625,"v":-4.1},{"ch":10,"t":3675,"v":-3.95},{"ch":10,"t":3725,"v":-4.05},{"ch":10,"t":3775,"v":-3.9},{"ch":10,"t":3825,"v":-4.1},{"ch":10,"t":3875,"v":-4.0},{"ch":10,"t":3925,"v":-4.15},{"ch":10,"t":3975,"v":-3.95},{"ch":10,"t":4025,"v":-4.05},{"ch":10,"t":4075,"v":-3.9},{"ch":10,"t":4125,"v":-4.1},{"ch":10,"t":4175,"v":-4.0},{"ch":10,"t":4225,"v":-4.15},{"ch":10,"t":4275,"v":-3.95},{"ch":10,"t":4325,"v":-4.1},{"ch":10,"t":4375,"v":-3.9},{"ch":10,"t":4425,"v":-4.2},{"ch":10,"t":4475,"v":-4.0},{"ch":10,"t":4525,"v":-4.1},{"ch":10,"t":4575,"v":-3.95},{"ch":10,"t":4625,"v":-4.15},{"ch":10,"t":4675,"v":-3.95},{"ch":10,"t":4725,"v":-4.05},{"ch":10,"t":4775,"v":-3.95},{"ch":10,"t":4825,"v":-4.1},{"ch":10,"t":4875,"v":-4.0},{"ch":10,"t":4925,"v":-4.15},{"ch":10,"t":4975,"v":-4.0},{"ch":10,"t":5025,"v":-4.1},{"ch":10,"t":5075,"v":-3.95},{"ch":10,"t":5125,"v":-4.1},{"ch":10,"t":5175,"v":-4.0},{"ch":10,"t":5225,"v":-4.1},{"ch":10,"t":5275,"v":-4.0},{"ch":10,"t":5325,"v":-4.15},{"ch":10,"t":5375,"v":-3.95},{"ch":10,"t":5425,"v":-4.1},{"ch":10,"t":5475,"v":-4.0},{"ch":10,"t":5525,"v":-4.1},{"ch":10,"t":5575,"v":-3.95},{"ch":10,"t":5625,"v":-4.0},
{"ch":11,"t":3025,"v":-4.2},{"ch":11,"t":3075,"v":-4.35},{"ch":11,"t":3125,"v":-4.45},{"ch":11,"t":3175,"v":-4.4},{"ch":11,"t":3225,"v":-4.55},{"ch":11,"t":3275,"v":-4.45},{"ch":11,"t":3325,"v":-4.6},{"ch":11,"t":3375,"v":-4.55},{"ch":11,"t":3425,"v":-4.65},{"ch":11,"t":3475,"v":-4.6},{"ch":11,"t":3525,"v":-4.75},{"ch":11,"t":3575,"v":-4.65},{"ch":11,"t":3625,"v":-4.8},{"ch":11,"t":3675,"v":-4.6},{"ch":11,"t":3725,"v":-4.7},{"ch":11,"t":3775,"v":-4.65},{"ch":11,"t":3825,"v":-4.8},{"ch":11,"t":3875,"v":-4.7},{"ch":11,"t":3925,"v":-4.85},{"ch":11,"t":3975,"v":-4.75},{"ch":11,"t":4025,"v":-4.7},{"ch":11,"t":4075,"v":-4.85},{"ch":11,"t":4125,"v":-4.75},{"ch":11,"t":4175,"v":-4.9},{"ch":11,"t":4225,"v":-4.7},{"ch":11,"t":4275,"v":-4.8},{"ch":11,"t":4325,"v":-4.75},{"ch":11,"t":4375,"v":-4.85},{"ch":11,"t":4425,"v":-4.7},{"ch":11,"t":4475,"v":-4.85},{"ch":11,"t":4525,"v":-4.75},{"ch":11,"t":4575,"v":-4.85},{"ch":11,"t":4625,"v":-4.75},{"ch":11,"t":4675,"v":-4.9},{"ch":11,"t":4725,"v":-4.7},{"ch":11,"t":4775,"v":-4.8},{"ch":11,"t":4825,"v":-4.7},{"ch":11,"t":4875,"v":-4.9},{"ch":11,"t":4925,"v":-4.8},{"ch":11,"t":4975,"v":-4.95},{"ch":11,"t":5025,"v":-4.75},{"ch":11,"t":5075,"v":-4.85},{"ch":11,"t":5125,"v":-4.8},{"ch":11,"t":5175,"v":-4.9},{"ch":11,"t":5225,"v":-4.75},{"ch":11,"t":5275,"v":-4.85},{"ch":11,"t":5325,"v":-4.8},{"ch":11,"t":5375,"v":-4.9},{"ch":11,"t":5425,"v":-4.75},{"ch":11,"t":5475,"v":-4.85},{"ch":11,"t":5525,"v":-4.8},{"ch":11,"t":5575,"v":-4.9},{"ch":11,"t":5625,"v":-4.8},
{"ch":12,"t":3025,"v":-5.6},{"ch":12,"t":3075,"v":-7.3},{"ch":12,"t":3125,"v":-6.2},{"ch":12,"t":3175,"v":-7.9},{"ch":12,"t":3225,"v":-5.8},{"ch":12,"t":3275,"v":-7.1},{"ch":12,"t":3325,"v":-6.0},{"ch":12,"t":3375,"v":-7.6},{"ch":12,"t":3425,"v":-5.5},{"ch":12,"t":3475,"v":-7.8},{"ch":12,"t":3525,"v":-6.1},{"ch":12,"t":3575,"v":-7.4},{"ch":12,"t":3625,"v":-6.3},{"ch":12,"t":3675,"v":-7.9},{"ch":12,"t":3725,"v":-5.6},{"ch":12,"t":3775,"v":-6.6},{"ch":12,"t":3825,"v":-7.6},{"ch":12,"t":3875,"v":-5.8},{"ch":12,"t":3925,"v":-7.3},{"ch":12,"t":3975,"v":-6.1},{"ch":12,"t":4025,"v":-7.7},{"ch":12,"t":4075,"v":-5.7},{"ch":12,"t":4125,"v":-7.1},{"ch":12,"t":4175,"v":-6.0},{"ch":12,"t":4225,"v":-7.5},{"ch":12,"t":4275,"v":-5.9},{"ch":12,"t":4325,"v":-6.9},{"ch":12,"t":4375,"v":-7.8},{"ch":12,"t":4425,"v":-5.9},{"ch":12,"t":4475,"v":-7.2},{"ch":12,"t":4525,"v":-5.7},{"ch":12,"t":4575,"v":-7.6},{"ch":12,"t":4625,"v":-6.4},{"ch":12,"t":4675,"v":-7.4},{"ch":12,"t":4725,"v":-5.6},{"ch":12,"t":4775,"v":-7.1},{"ch":12,"t":4825,"v":-6.3},{"ch":12,"t":4875,"v":-7.7},{"ch":12,"t":4925,"v":-5.9},{"ch":12,"t":4975,"v":-7.3},{"ch":12,"t":5025,"v":-6.2},{"ch":12,"t":5075,"v":-7.8},{"ch":12,"t":5125,"v":-5.8},{"ch":12,"t":5175,"v":-7.4},{"ch":12,"t":5225,"v":-6.5},{"ch":12,"t":5275,"v":-7.6},{"ch":12,"t":5325,"v":-5.7},{"ch":12,"t":5375,"v":-7.2},{"ch":12,"t":5425,"v":-6.0},{"ch":12,"t":5475,"v":-7.5},{"ch":12,"t":5525,"v":-5.9},{"ch":12,"t":5575,"v":-7.7},{"ch":12,"t":5625,"v":-6.4}
],
"fits": [
{"ch":1,"t0":3100,"t1":5600,"v":13.1},{"ch":2,"t0":3100,"t1":5600,"v":12.45},{"ch":3,"t0":3100,"t1":5600,"v":11.62},{"ch":4,"t0":3100,"t1":5600,"v":10.45},{"ch":5,"t0":3100,"t1":5600,"v":8.38},{"ch":6,"t0":3100,"t1":5600,"v":6.8},{"ch":7,"t0":3100,"t1":5600,"v":4.17},{"ch":8,"t0":3100,"t1":5600,"v":2.01},{"ch":9,"t0":3100,"t1":5600,"v":0.33},{"ch":10,"t0":3100,"t1":5600,"v":-4.08},{"ch":11,"t0":3100,"t1":5600,"v":-4.73},{"ch":12,"t0":3100,"t1":5600,"v":-6.67}
],
"zero": [{"t0":-62,"t1":150,"v":0},{"t0":5630,"t1":6030,"v":0}],
"span": [{"t0":3100,"t1":5600,"v":-2}],
"caps": [{"t":3100,"v0":-1.55,"v1":-2.5},{"t":5600,"v0":-1.55,"v1":-2.5}],
"notes": [{"t":208,"v":12.15,"text":"MSE pitch angle (deg)"},{"t":4345,"v":-1.2,"text":"τ"},{"t":4465,"v":-1.51,"text":"R"}]
},
"layer": [
{"data":{"name":"zero"},"mark":{"type":"rule","color":"#000000","strokeWidth":1.2},
 "encoding":{"x":{"field":"t0","type":"quantitative","scale":{"domain":[-62,6030],"nice":false,"zero":false},"axis":null},"x2":{"field":"t1"},
 "y":{"field":"v","type":"quantitative","scale":{"domain":[-9.27,14.0],"nice":false,"zero":false},"axis":null}}},
{"data":{"name":"pitch"},"transform":[{"filter":"datum.t <= 2950"}],"mark":{"type":"line","strokeWidth":1.3},
 "encoding":{"x":{"field":"t","type":"quantitative","scale":{"domain":[-62,6030],"nice":false,"zero":false},
   "axis":{"orient":"bottom","values":[0,1000,2000,3000,4000,5000,6000],"ticks":false,"domain":false,"grid":false,"labelPadding":5,"labelFlush":false,"labelOverlap":false,"labelBound":false,"format":"d","title":"Time (ms)","titlePadding":18}},
  "y":{"field":"v","type":"quantitative","scale":{"domain":[-9.27,14.0],"nice":false,"zero":false},
   "axis":{"orient":"left","values":[-5,0,5,10],"ticks":false,"domain":false,"grid":false,"labelPadding":9.5,"labelOverlap":false,"labelFlush":false,"format":"d","title":null}},
  "color":{"field":"ch","type":"nominal","scale":{"domain":[1,2,3,4,5,6,7,8,9,10,11,12],"range":["#000000","#3b56a6","#d0d0d0","#1e8c3e","#6b2c8e","#c062aa","#3f8fd2","#f8b521","#a9cb30","#ec3a2b","#000000","#3b56a6"]},"legend":null}}},
{"data":{"name":"pitch"},"transform":[{"filter":"datum.t <= 2950"}],"mark":{"type":"tick","orient":"vertical","size":8,"thickness":1.2},
 "encoding":{"x":{"field":"t","type":"quantitative","axis":{"orient":"bottom","values":[0,1000,2000,3000,4000,5000,6000],"labels":false,"domain":false,"grid":false,"ticks":true,"tickSize":-10.7,"tickWidth":1.6,"title":null}},
  "y":{"field":"v","type":"quantitative","axis":{"orient":"left","values":[-5,0,5,10],"labels":false,"domain":false,"grid":false,"ticks":true,"tickSize":-18,"tickWidth":1.6,"title":null}},
  "color":{"field":"ch","type":"nominal","legend":null}}},
{"data":{"name":"pitch"},"transform":[{"filter":"datum.t >= 2950 && indexof([1,2,5,6,8,9,10,11], datum.ch) >= 0"}],"mark":{"type":"line","strokeWidth":1.2},
 "encoding":{"x":{"field":"t","type":"quantitative","axis":{"orient":"bottom","values":[0,100,200,300,400,500,600,700,800,900,1000,1100,1200,1300,1400,1500,1600,1700,1800,1900,2000,2100,2200,2300,2400,2500,2600,2700,2800,2900,3000,3100,3200,3300,3400,3500,3600,3700,3800,3900,4000,4100,4200,4300,4400,4500,4600,4700,4800,4900,5000,5100,5200,5300,5400,5500,5600,5700,5800,5900,6000],"labels":false,"domain":false,"grid":false,"ticks":true,"tickSize":-5,"tickWidth":1.4,"title":null}},
  "y":{"field":"v","type":"quantitative","axis":{"orient":"left","values":[-9,-8,-7,-6,-5,-4,-3,-2,-1,0,1,2,3,4,5,6,7,8,9,10,11,12,13],"labels":false,"domain":false,"grid":false,"ticks":true,"tickSize":-9,"tickWidth":1.4,"title":null}},
  "color":{"field":"ch","type":"nominal","legend":null}}},
{"data":{"name":"pitch"},"transform":[{"filter":"datum.t >= 2950 && indexof([3,4,7,12], datum.ch) >= 0"}],"mark":{"type":"line","strokeWidth":1.1,"strokeDash":[1.5,1.2]},
 "encoding":{"x":{"field":"t","type":"quantitative","axis":{"orient":"top","values":[0,1000,2000,3000,4000,5000,6000],"labels":false,"domain":false,"grid":false,"ticks":true,"tickSize":-10.7,"tickWidth":1.6,"title":null}},
  "y":{"field":"v","type":"quantitative","axis":{"orient":"right","values":[-5,0,5,10],"labels":false,"domain":false,"grid":false,"ticks":true,"tickSize":-18,"tickWidth":1.6,"title":null}},
  "color":{"field":"ch","type":"nominal","legend":null}}},
{"data":{"name":"fits"},"mark":{"type":"rule","strokeWidth":4.5},
 "encoding":{"x":{"field":"t0","type":"quantitative","axis":{"orient":"top","values":[0,100,200,300,400,500,600,700,800,900,1000,1100,1200,1300,1400,1500,1600,1700,1800,1900,2000,2100,2200,2300,2400,2500,2600,2700,2800,2900,3000,3100,3200,3300,3400,3500,3600,3700,3800,3900,4000,4100,4200,4300,4400,4500,4600,4700,4800,4900,5000,5100,5200,5300,5400,5500,5600,5700,5800,5900,6000],"labels":false,"domain":false,"grid":false,"ticks":true,"tickSize":-5,"tickWidth":1.4,"title":null}},
  "x2":{"field":"t1"},
  "y":{"field":"v","type":"quantitative","axis":{"orient":"right","values":[-9,-8,-7,-6,-5,-4,-3,-2,-1,0,1,2,3,4,5,6,7,8,9,10,11,12,13],"labels":false,"domain":false,"grid":false,"ticks":true,"tickSize":-9,"tickWidth":1.4,"title":null}},
  "color":{"field":"ch","type":"nominal","legend":null}}},
{"data":{"name":"span"},"mark":{"type":"rule","color":"#e8392b","strokeWidth":4},
 "encoding":{"x":{"field":"t0","type":"quantitative","axis":null},"x2":{"field":"t1"},"y":{"field":"v","type":"quantitative","axis":null}}},
{"data":{"name":"caps"},"mark":{"type":"rule","color":"#e8392b","strokeWidth":3},
 "encoding":{"x":{"field":"t","type":"quantitative","axis":null},"y":{"field":"v0","type":"quantitative","axis":null},"y2":{"field":"v1"}}},
{"data":{"name":"notes"},"transform":[{"filter":"datum.text === 'MSE pitch angle (deg)'"}],"mark":{"type":"text","align":"left","baseline":"alphabetic","font":"Liberation Sans, sans-serif","fontWeight":"bold","fontSize":28,"color":"#000000"},
 "encoding":{"x":{"field":"t","type":"quantitative","axis":null},"y":{"field":"v","type":"quantitative","axis":null},"text":{"field":"text"}}},
{"data":{"name":"notes"},"transform":[{"filter":"datum.text === 'τ'"}],"mark":{"type":"text","align":"left","baseline":"alphabetic","font":"Liberation Sans, sans-serif","fontWeight":"bold","fontSize":32,"color":"#e8392b"},
 "encoding":{"x":{"field":"t","type":"quantitative","axis":null},"y":{"field":"v","type":"quantitative","axis":null},"text":{"field":"text"}}},
{"data":{"name":"notes"},"transform":[{"filter":"datum.text === 'R'"}],"mark":{"type":"text","align":"left","baseline":"alphabetic","font":"Liberation Sans, sans-serif","fontWeight":"bold","fontSize":24,"color":"#e8392b"},
 "encoding":{"x":{"field":"t","type":"quantitative","axis":null},"y":{"field":"v","type":"quantitative","axis":null},"text":{"field":"text"}}}
],
"resolve":{"axis":{"x":"independent","y":"independent"}},
"config":{
 "view":{"stroke":"#000000","strokeWidth":2},
 "axis":{"grid":false,"domain":false,"tickColor":"#000000","labelColor":"#000000","titleColor":"#000000",
  "labelFont":"Liberation Sans, sans-serif","labelFontSize":27,"labelFontWeight":"bold",
  "titleFont":"Liberation Sans, sans-serif","titleFontSize":28,"titleFontWeight":"bold"}
}
}
